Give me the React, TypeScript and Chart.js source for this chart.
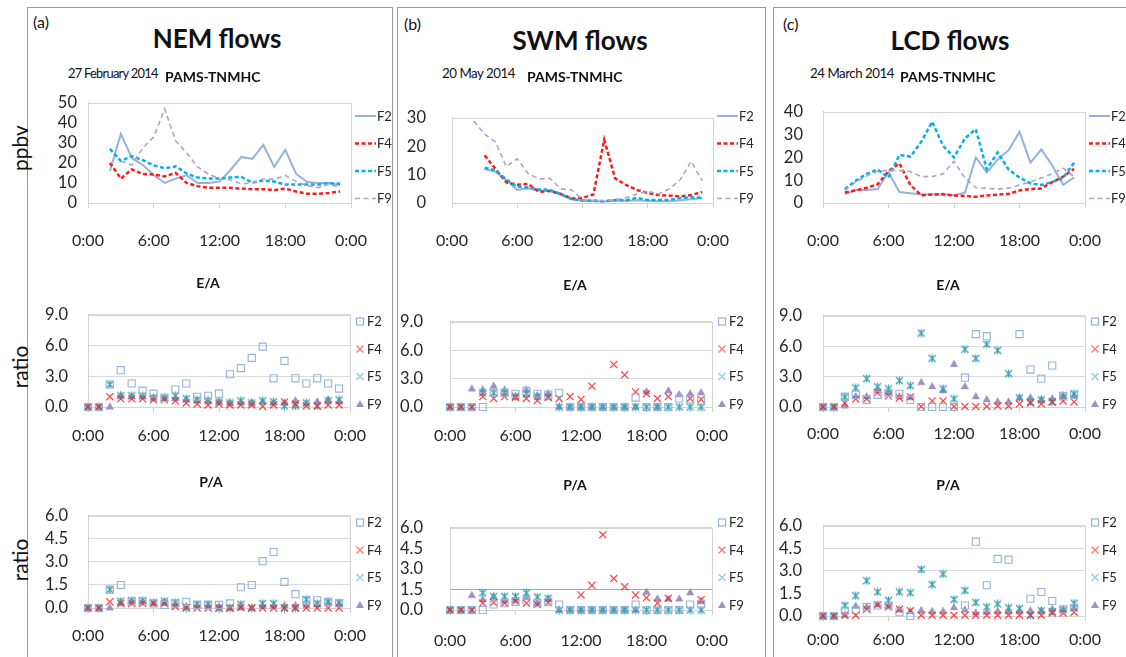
import React, { useEffect, useRef } from 'react';
import { Chart, registerables } from 'chart.js';

Chart.register(...registerables);

// ---------- data ----------
const HOURS = [0, 1, 2, 3, 4, 5, 6, 7, 8, 9, 10, 11, 12, 13, 14, 15, 16, 17, 18, 19, 20, 21, 22, 23];
const SERIES_NAMES = ['F2', 'F4', 'F5', 'F9'];
const X_TICK_VALUES = [0, 6, 12, 18, 24];
const X_TICK_LABELS = ['0:00', '6:00', '12:00', '18:00', '0:00'];

const NEM_Y_TICKS = [0, 10, 20, 30, 40, 50];
const SWM_Y_TICKS = [0, 10, 20, 30];
const LCD_Y_TICKS = [0, 10, 20, 30, 40];
const EA_Y_TICKS = [0, 3, 6, 9];
const PA_Y_TICKS = [0, 1.5, 3, 4.5, 6];

// (a) NEM flows, PAMS-TNMHC (ppbv)
const NEM_F2 = [null, null, 16, 34.5, 22.5, 19, 14, 10, 12.2, 13.8, 10, 10, 10.7, 16.5, 23, 22, 29, 18, 26.5, 14.5, 10.5, 10, 10, 9];
const NEM_F4 = [null, null, 20, 12.2, 16.8, 14.5, 14.2, 13.3, 15, 10, 8.4, 7.6, 7.6, 7.6, 7.2, 6.9, 6.9, 6.4, 7.2, 5.7, 4.6, 4.6, 5, 5.8];
const NEM_F5 = [null, null, 27, 21, 23.4, 21.4, 18.8, 17.3, 18.3, 14.8, 12.7, 12.2, 12.2, 12.7, 13, 10.2, 11.2, 10.7, 9.2, 9.2, 9.2, 9.2, 9.9, 9.6];
const NEM_F9 = [null, null, null, 21, 19, 27.5, 33, 47, 31, 25, 18, 14.5, 12, 11.5, 9.5, 10, 12, 11.8, 13.8, 10.7, 8.7, 7.6, 9.5, 7.6];

// (a) E/A ratio
const NEM_EA_F2 = [0, 0, 2.2, 3.6, 2.3, 1.6, 1.3, 0.9, 1.7, 2.3, 1.0, 1.1, 1.3, 3.2, 3.8, 4.8, 5.9, 2.8, 4.5, 2.8, 2.3, 2.8, 2.3, 1.8];
const NEM_EA_F4 = [0, 0, 1.0, 0.8, 0.8, 0.8, 0.7, 0.7, 0.6, 0.4, 0.3, 0.2, 0.3, 0.2, 0.2, 0.2, 0.05, 0.2, 0.5, 0.3, 0.1, 0.1, 0.2, 0.2];
const NEM_EA_F5 = [0, 0, 2.2, 1.1, 1.1, 1.1, 0.9, 0.9, 1.1, 0.8, 0.7, 0.6, 0.5, 0.4, 0.6, 0.4, 0.6, 0.5, 0.1, 0.1, 0.4, 0.1, 0.6, 0.7];
const NEM_EA_F9 = [0, 0, 0, 1.1, 1.0, 1.0, 0.9, 0.8, 0.8, 0.7, 0.6, 0.6, 0.5, 0.4, 0.4, 0.4, 0.5, 0.4, 0.4, 0.6, 0.3, 0.5, 0.7, 0.5];

// (a) P/A ratio
const NEM_PA_F2 = [0, 0, 1.2, 1.5, 0.4, 0.4, 0.3, 0.2, 0.3, 0.4, 0.2, 0.2, 0.2, 0.3, 1.35, 1.5, 3.05, 3.65, 1.7, 0.9, 0.5, 0.5, 0.4, 0.3];
const NEM_PA_F4 = [0, 0, 0.4, 0.3, 0.3, 0.3, 0.3, 0.3, 0.1, 0.05, 0, 0, 0, 0, 0.05, 0, 0, 0, 0, 0, 0, 0, 0, 0];
const NEM_PA_F5 = [0, 0, 1.2, 0.45, 0.5, 0.5, 0.35, 0.45, 0.35, 0, 0.25, 0.25, 0, 0, 0.25, 0, 0.3, 0.3, 0, 0, 0.55, 0.3, 0.4, 0.35];
const NEM_PA_F9 = [0, 0, 0, 0.3, 0.4, 0.4, 0.3, 0.3, 0.2, 0.1, 0.1, 0.1, 0.1, 0, 0, 0, 0.1, 0.1, 0.15, 0.15, 0.15, 0.2, 0.3, 0.25];

// (b) SWM flows, PAMS-TNMHC (ppbv)
const SWM_F2 = [null, null, null, 12, 11, 8, 4.6, 5.2, 4.4, 4.1, 3, 1.2, 0.8, 0.6, 0.5, 0.8, 0.8, 1.0, 0.8, 0.6, 0.6, 1.0, 1.3, 1.8];
const SWM_F4 = [null, null, null, 16.8, 12, 7.3, 6.4, 6.7, 3.9, 4.3, 3.2, 1.6, 1.8, 3, 22.3, 8.7, 6.4, 4.6, 3.5, 2.8, 2.6, 2.3, 2.8, 3.9];
const SWM_F5 = [null, null, null, 12.4, 11.5, 8.3, 5.7, 5.5, 4.8, 4.6, 3.2, 1.4, 0.9, 0.9, 0.6, 1.1, 0.9, 1.8, 1.1, 1.1, 1.1, 1.8, 2, 1.8];
const SWM_F9 = [null, null, 28.9, 24.3, 21.5, 12.8, 15.6, 10.4, 8.5, 8.7, 5, 4.6, 1.1, 0.9, 0.9, 1.1, 1.8, 3.2, 4.1, 3.2, 5, 8.3, 14.7, 7.8];

// (b) E/A ratio
const SWM_EA_F2 = [0, 0, 0, 0, 1.5, 1.5, 1.4, 1.7, 1.4, 1.3, 1.5, 0, 0, 0, 0, 0, 0, 1.0, 0, 0, 0, 0.9, 0.8, 0.6];
const SWM_EA_F4 = [0, 0, 0, 1.1, 0.9, 1.1, 1.0, 0.9, 0.7, 1.0, 0.9, 1.1, 0.8, 2.2, null, 4.5, 3.4, 1.6, 1.4, 0.9, 1.1, null, 0.9, 0.8];
const SWM_EA_F5 = [0, 0, 0, 1.5, 1.5, 1.5, 1.1, 1.4, 1.1, 1.1, 0, 0, 0, 0, 0, 0, 0, 0, 0, 0, 0, 0, 0, 0];
const SWM_EA_F9 = [0, 0, 1.9, 1.8, 2.2, 1.8, 1.1, 1.8, 1.2, 1.4, 0, 0, 0, 0, 0, 0, 0, 0, 1.6, 0, 1.7, 1.3, 1.4, 1.5];

// (b) P/A ratio
const SWM_PA_F2 = [0, 0, 0, 0, 0.4, 0.5, 0.6, 0.7, 0.5, 0.6, 0.4, 0, 0, 0, 0, 0, 0, 0.4, 0, 0, 0, 0, 0.4, 0.45];
const SWM_PA_F4 = [0, 0, 0, 0.5, 0.55, 0.5, 0.65, 0.5, 0.4, 0.55, null, null, 1.1, 1.8, 5.5, 2.3, 1.7, 1.1, 0.9, 0.5, 0.85, null, null, 0.75];
const SWM_PA_F5 = [0, 0, 0, 1.25, 1.0, 1.0, 1.0, 1.25, 0.95, 0.85, 0, 0, 0, 0, 0, 0, 0, 0, 0, 0, 0, 0, 0, 0];
const SWM_PA_F9 = [0, 0, 1.05, 0.75, 0.95, 0.65, 0.7, 0.9, 0.5, 0.8, 0, 0, 0, 0, 0, 0, 0, 0, 1.3, 0.8, 0.8, 0.8, 1.25, 0.6];

// (c) LCD flows, PAMS-TNMHC (ppbv)
const LCD_F2 = [null, null, 3.9, 5.7, 5.7, 6.1, 13.5, 4.8, 4.3, 3.7, 3.7, 3.7, 3.4, 4.5, 20, 13.4, 19, 23.2, 31.2, 17.7, 23.5, 16.5, 8, 11.2];
const LCD_F4 = [null, null, 4.6, 5.5, 6.7, 8.2, 14, 17.4, 7.9, 3.4, 3.7, 3.9, 3.3, 3.1, 2.7, 3.3, 3.7, 4, 5.5, 6.1, 6.4, 9.2, 11.6, 15];
const LCD_F5 = [null, null, 6.1, 9.8, 12.8, 14.7, 11.2, 21.1, 20.4, 26.9, 35.7, 25.1, 20, 28.4, 32.4, 14.9, 22.2, 14.7, 11.2, 8.6, 7.9, 9.2, 11, 17.7];
const LCD_F9 = [null, null, 5.5, 9.2, 11.9, 13.8, 14.4, 14.3, 13.8, 11.6, 11.6, 12.8, 18.3, 11, 6.7, 6.5, 6.1, 6.5, 7.9, 9.2, 11, 12.8, 15.3, 11.6];

// (c) E/A ratio
const LCD_EA_F2 = [0, 0, 1.0, 1.2, 0.7, 1.2, 1.4, 1.3, 0.7, 0, 0, 0, 0, 2.9, 7.2, 7.0, null, null, 7.2, 3.7, 2.8, 4.1, 1.1, 1.2];
const LCD_EA_F4 = [0, 0, 0.4, 0.8, 0.8, 1.4, 1.1, 0.9, 1.0, 0.05, 0.6, 0.6, 0.05, 0.05, 0.05, 0.05, 0.1, 0.1, 0.3, 0.4, 0.3, 0.5, 0.6, 0.5];
const LCD_EA_F5 = [0, 0, 1.0, 1.9, 2.8, 2.0, 1.8, 2.6, 2.1, 7.3, 4.8, 1.8, 0.8, 5.7, 4.8, 6.2, 5.6, 3.3, 0.9, 0.5, 0.7, 0.5, 1.0, 1.3];
const LCD_EA_F9 = [0, 0, 0.1, 1.0, 1.0, 1.6, 1.4, 1.0, 0.9, 2.4, 2.0, 1.6, 4.2, 2.0, 1.0, 0.7, 0.5, 0.5, 0.9, 0.9, 0.7, 0.8, 1.1, 1.1];

// (c) P/A ratio
const LCD_PA_F2 = [0, 0, 0.35, 0.4, 0.6, 0.7, 0.7, 0.25, 0, null, null, null, null, 0.7, 4.95, 2.05, 3.8, 3.75, null, 1.15, 1.6, 1.0, 0.45, 0.55];
const LCD_PA_F4 = [0, 0, 0.05, 0.05, 0.45, 0.75, 0.6, 0.45, 0.35, 0.05, 0.05, 0.05, 0.05, 0.05, 0.05, 0.05, 0.05, 0.05, 0.05, 0.05, 0.05, 0.2, 0.2, 0.25];
const LCD_PA_F5 = [0, 0, 0.7, 1.35, 2.35, 1.6, 1.05, 1.6, 1.55, 3.1, 2.1, 2.8, 1.1, 1.7, 0.9, 0.6, 0.8, 0.55, 0.5, 0.05, 0.35, 0.3, 0.4, 0.85];
const LCD_PA_F9 = [0, 0, 0.05, 0.65, 0.6, 0.75, 0.65, 0.4, 0.3, 0.35, 0.3, 0.3, 0.55, 0.4, 0.2, 0.25, 0.3, 0.3, 0.3, 0.35, 0.35, 0.45, 0.4, 0.5];

// ---------- styles ----------
const FONT = 'Lato, Carlito, "Open Sans", sans-serif';
const TEXT = '#262626';
const C_F2 = '#95b3d7';
const C_F4 = '#ff1a1a';
const C_F5_LINE = '#00b0f0';
const C_F5_MARK = '#3aa2b6';
const C_F9_LINE = '#b3a2c7';
const C_F9_MARK = '#a090c4';

type Vals = (number | null)[];

interface Spec {
  kind: 'line' | 'scatter';
  series: Vals[];
  yTicks: number[];
  decimals: number;
  l: number; r: number; t: number; b: number;
  yLabRight: number;
  xLabCenter: number;
  legendY0: number;
  gridColor?: (v: number) => string;
}

let f5Img: HTMLCanvasElement | null = null;
function getF5Marker(): HTMLCanvasElement {
  if (f5Img) return f5Img;
  const s = 9;
  const c = document.createElement('canvas');
  c.width = s; c.height = s;
  const g = c.getContext('2d')!;
  g.strokeStyle = C_F5_MARK;
  g.lineWidth = 1.3;
  g.beginPath();
  g.moveTo(1, 1); g.lineTo(s - 1, s - 1);
  g.moveTo(s - 1, 1); g.lineTo(1, s - 1);
  g.moveTo(s / 2, 0.5); g.lineTo(s / 2, s - 0.5);
  g.stroke();
  f5Img = c;
  return c;
}

function drawLegendMarker(ctx: CanvasRenderingContext2D, idx: number, x: number, y: number) {
  ctx.save();
  ctx.setLineDash([]);
  if (idx === 0) {
    ctx.strokeStyle = C_F2; ctx.lineWidth = 1.2;
    ctx.strokeRect(x - 3.5, y - 3.5, 7, 7);
  } else if (idx === 1) {
    ctx.strokeStyle = 'rgba(255,60,60,0.7)'; ctx.lineWidth = 1.3;
    ctx.beginPath();
    ctx.moveTo(x - 3.5, y - 3.5); ctx.lineTo(x + 3.5, y + 3.5);
    ctx.moveTo(x + 3.5, y - 3.5); ctx.lineTo(x - 3.5, y + 3.5);
    ctx.stroke();
  } else if (idx === 2) {
    ctx.strokeStyle = '#8fd0df'; ctx.lineWidth = 1.3;
    ctx.beginPath();
    ctx.moveTo(x - 3.5, y - 3.5); ctx.lineTo(x + 3.5, y + 3.5);
    ctx.moveTo(x + 3.5, y - 3.5); ctx.lineTo(x - 3.5, y + 3.5);
    ctx.stroke();
  } else {
    ctx.fillStyle = C_F9_MARK;
    ctx.beginPath();
    ctx.moveTo(x, y - 4); ctx.lineTo(x + 4, y + 3); ctx.lineTo(x - 4, y + 3);
    ctx.closePath(); ctx.fill();
  }
  ctx.restore();
}

const LINE_STYLES = [
  { color: C_F2, width: 2, dash: [] as number[] },
  { color: C_F4, width: 2.5, dash: [4, 2.5] },
  { color: C_F5_LINE, width: 2.5, dash: [4, 2.5] },
  { color: C_F9_LINE, width: 1.6, dash: [5, 3.5] },
];

const sideLegend = {
  id: 'sideLegend',
  afterDraw(chart: any, _a: any, opts: any) {
    const { ctx, chartArea } = chart;
    const x0 = chartArea.right;
    SERIES_NAMES.forEach((name, i) => {
      const y = opts.y0 + 27.5 * i;
      let tx: number;
      ctx.save();
      if (opts.kind === 'line') {
        const st = LINE_STYLES[i];
        ctx.strokeStyle = st.color; ctx.lineWidth = st.width; ctx.setLineDash(st.dash);
        ctx.beginPath(); ctx.moveTo(x0 + 4, y); ctx.lineTo(x0 + 25, y); ctx.stroke();
        tx = x0 + 26;
      } else {
        drawLegendMarker(ctx, i, x0 + 10, y);
        tx = x0 + 17;
      }
      ctx.setLineDash([]);
      ctx.fillStyle = TEXT;
      ctx.font = `13px ${FONT}`;
      ctx.textBaseline = 'middle';
      ctx.textAlign = 'left';
      ctx.fillText(name, tx, y + 0.5);
      ctx.restore();
    });
  },
};

const frame = {
  id: 'frame',
  beforeDatasetsDraw(chart: any) {
    const { ctx, chartArea: { left, top, right, bottom } } = chart;
    ctx.save();
    ctx.strokeStyle = '#d4d4d4';
    ctx.lineWidth = 1;
    ctx.strokeRect(Math.round(left) + 0.5, Math.round(top) + 0.5, Math.round(right - left), Math.round(bottom - top));
    ctx.restore();
  },
};

const PAD_TOP = 12;
const RIGHT_W = 48;

function ChartBox({ spec }: { spec: Spec }) {
  const ref = useRef<HTMLCanvasElement>(null);
  const yPad = spec.l - spec.yLabRight;
  const yW = yPad + 34;
  const xH = spec.xLabCenter - spec.b + 16;
  const width = spec.r - spec.l + yW + RIGHT_W;
  const height = spec.b - spec.t + PAD_TOP + xH;
  const left = spec.l - yW;
  const top = spec.t - PAD_TOP;

  useEffect(() => {
    const yMax = spec.yTicks[spec.yTicks.length - 1];
    const datasets = spec.series.map((vals, i) => {
      const data = HOURS.map((h, k) => ({ x: h, y: vals[k] }));
      if (spec.kind === 'line') {
        const st = LINE_STYLES[i];
        return {
          label: SERIES_NAMES[i], data,
          borderColor: st.color, borderWidth: st.width, borderDash: st.dash,
          pointRadius: 0, tension: 0, fill: false, spanGaps: false,
          order: i === 0 ? 4 : 4 - i,
        };
      }
      const base: any = { label: SERIES_NAMES[i], data, clip: false, pointBorderWidth: 1.3 };
      if (i === 0) return { ...base, pointStyle: 'rect', pointRadius: 5, pointBorderColor: C_F2, pointBackgroundColor: 'rgba(0,0,0,0)', pointBorderWidth: 1.1 };
      if (i === 1) return { ...base, pointStyle: 'crossRot', pointRadius: 5, pointBorderColor: 'rgba(255,30,30,0.8)' };
      if (i === 2) return { ...base, pointStyle: getF5Marker(), pointRadius: 5 };
      return { ...base, pointStyle: 'triangle', pointRadius: 4.3, pointBackgroundColor: C_F9_MARK, pointBorderColor: C_F9_MARK, pointBorderWidth: 0.5 };
    });

    const chart = new Chart(ref.current!, {
      type: spec.kind === 'line' ? 'line' : 'scatter',
      data: { datasets } as any,
      plugins: [frame, sideLegend],
      options: {
        responsive: false,
        animation: false,
        devicePixelRatio: 1,
        events: [],
        layout: { padding: { top: PAD_TOP, right: RIGHT_W, left: 0, bottom: 0 } },
        plugins: {
          legend: { display: false },
          tooltip: { enabled: false },
          title: { display: false },
          sideLegend: { kind: spec.kind, y0: spec.legendY0 - top },
        } as any,
        scales: {
          x: {
            type: 'linear', min: 0, max: 24,
            afterBuildTicks: (s: any) => { s.ticks = X_TICK_VALUES.map((v) => ({ value: v })); },
            afterFit: (s: any) => { s.height = xH; },
            ticks: {
              autoSkip: false, maxRotation: 0,
              padding: spec.xLabCenter - spec.b - 14,
              color: TEXT,
              font: { family: FONT, size: 16 },
              callback: (v: any) => X_TICK_LABELS[X_TICK_VALUES.indexOf(Number(v))],
            },
            grid: { drawOnChartArea: false, drawTicks: true, tickLength: 5, color: '#cfcfcf' },
            border: { display: true, color: '#b8b8b8' },
          },
          y: {
            type: 'linear', min: 0, max: yMax,
            afterBuildTicks: (s: any) => { s.ticks = spec.yTicks.map((v) => ({ value: v })); },
            afterFit: (s: any) => { s.width = yW; },
            ticks: {
              autoSkip: false,
              padding: yPad,
              color: TEXT,
              font: { family: FONT, size: 16.5 },
              callback: (v: any) => Number(v).toFixed(spec.decimals),
            },
            grid: {
              display: spec.kind === 'scatter',
              drawTicks: false,
              color: (c: any) => (spec.gridColor ? spec.gridColor(c.tick.value) : '#dadada'),
            },
            border: { display: true, color: '#c4c4c4' },
          },
        },
      } as any,
    });
    return () => chart.destroy();
  }, []);

  return (
    <canvas
      ref={ref}
      width={width}
      height={height}
      style={{ position: 'absolute', left, top, width, height }}
    />
  );
}

const SPECS: Spec[] = [
  // panel a
  { kind: 'line', series: [NEM_F2, NEM_F4, NEM_F5, NEM_F9], yTicks: NEM_Y_TICKS, decimals: 0, l: 88, r: 351, t: 94, b: 203, yLabRight: 77, xLabCenter: 240, legendY0: 116 },
  { kind: 'scatter', series: [NEM_EA_F2, NEM_EA_F4, NEM_EA_F5, NEM_EA_F9], yTicks: EA_Y_TICKS, decimals: 1, l: 88, r: 350, t: 297, b: 407, yLabRight: 68, xLabCenter: 435, legendY0: 321.5 },
  { kind: 'scatter', series: [NEM_PA_F2, NEM_PA_F4, NEM_PA_F5, NEM_PA_F9], yTicks: PA_Y_TICKS, decimals: 1, l: 88, r: 350, t: 498, b: 608, yLabRight: 68, xLabCenter: 635, legendY0: 522.5 },
  // panel b
  { kind: 'line', series: [SWM_F2, SWM_F4, SWM_F5, SWM_F9], yTicks: SWM_Y_TICKS, decimals: 0, l: 452, r: 713, t: 94, b: 203, yLabRight: 426, xLabCenter: 240, legendY0: 116 },
  { kind: 'scatter', series: [SWM_EA_F2, SWM_EA_F4, SWM_EA_F5, SWM_EA_F9], yTicks: EA_Y_TICKS, decimals: 1, l: 450, r: 712, t: 297, b: 407, yLabRight: 423, xLabCenter: 435, legendY0: 321.5 },
  {
    kind: 'scatter', series: [SWM_PA_F2, SWM_PA_F4, SWM_PA_F5, SWM_PA_F9], yTicks: PA_Y_TICKS, decimals: 1, l: 450, r: 712, t: 503, b: 610, yLabRight: 423, xLabCenter: 640, legendY0: 522.5,
    gridColor: (v) => (v === 1.5 ? '#a8a8a8' : v === 6 ? '#d4d4d4' : 'rgba(0,0,0,0)'),
  },
  // panel c
  { kind: 'line', series: [LCD_F2, LCD_F4, LCD_F5, LCD_F9], yTicks: LCD_Y_TICKS, decimals: 0, l: 823, r: 1085, t: 94, b: 203, yLabRight: 803, xLabCenter: 240, legendY0: 116 },
  { kind: 'scatter', series: [LCD_EA_F2, LCD_EA_F4, LCD_EA_F5, LCD_EA_F9], yTicks: EA_Y_TICKS, decimals: 1, l: 823, r: 1085, t: 297, b: 407, yLabRight: 802, xLabCenter: 433, legendY0: 321.5 },
  {
    kind: 'scatter', series: [LCD_PA_F2, LCD_PA_F4, LCD_PA_F5, LCD_PA_F9], yTicks: PA_Y_TICKS, decimals: 1, l: 823, r: 1085, t: 507, b: 616, yLabRight: 802, xLabCenter: 639, legendY0: 522.5,
    gridColor: (v) => (v === 1.5 ? 'rgba(0,0,0,0)' : '#dadada'),
  },
];

interface TextItem { text: string; x: number; y: number; size: number; bold?: boolean; center?: boolean; spacing?: number; rotate?: boolean; squeeze?: number }

const TEXTS: TextItem[] = [
  { text: '(a)', x: 33, y: 22, size: 16 },
  { text: '(b)', x: 404, y: 24, size: 16 },
  { text: '(c)', x: 783, y: 24, size: 16 },
  { text: 'NEM flows', x: 217, y: 38, size: 26, bold: true, center: true },
  { text: 'SWM flows', x: 580, y: 40, size: 26, bold: true, center: true },
  { text: 'LCD flows', x: 950, y: 40, size: 26, bold: true, center: true },
  { text: '27 February 2014', x: 68, y: 73, size: 14, spacing: -0.8, squeeze: 0.92 },
  { text: '20 May 2014', x: 442, y: 73, size: 14, spacing: -0.5, squeeze: 0.95 },
  { text: '24 March 2014', x: 810, y: 73, size: 14, spacing: -0.5, squeeze: 0.95 },
  { text: 'PAMS-TNMHC', x: 165, y: 77, size: 14, bold: true },
  { text: 'PAMS-TNMHC', x: 527, y: 77, size: 14, bold: true },
  { text: 'PAMS-TNMHC', x: 900, y: 77, size: 14, bold: true },
  { text: 'E/A', x: 208, y: 283, size: 14, bold: true, center: true },
  { text: 'E/A', x: 575, y: 285, size: 14, bold: true, center: true },
  { text: 'E/A', x: 948, y: 285, size: 14, bold: true, center: true },
  { text: 'P/A', x: 211, y: 482, size: 14, bold: true, center: true },
  { text: 'P/A', x: 575, y: 485, size: 14, bold: true, center: true },
  { text: 'P/A', x: 948, y: 485, size: 14, bold: true, center: true },
  { text: 'ppbv', x: 19, y: 148, size: 21, center: true, rotate: true },
  { text: 'ratio', x: 19, y: 367, size: 21, center: true, rotate: true },
  { text: 'ratio', x: 19, y: 560, size: 21, center: true, rotate: true },
];

const BORDERS = [
  { left: 27, top: 7, width: 366 },
  { left: 397, top: 7, width: 369 },
  { left: 773, top: 7, width: 420 },
];

export default function App() {
  return (
    <div style={{ position: 'absolute', left: 0, top: 0, width: 1126, height: 657, overflow: 'hidden', background: '#fff', fontFamily: FONT }}>
      {BORDERS.map((b, i) => (
        <div key={'b' + i} style={{ position: 'absolute', left: b.left, top: b.top, width: b.width, height: 720, border: '1.5px solid #9a9a9a', boxSizing: 'border-box' }} />
      ))}
      {SPECS.map((s, i) => <ChartBox key={i} spec={s} />)}
      {TEXTS.map((t, i) => {
        let transform: string;
        let origin: string;
        if (t.rotate) {
          transform = 'translate(-50%,-50%) rotate(-90deg)';
          origin = '50% 50%';
        } else if (t.center) {
          transform = 'translate(-50%,-50%)';
          origin = '50% 50%';
        } else {
          transform = 'translateY(-50%)' + (t.squeeze ? ` scaleX(${t.squeeze})` : '');
          origin = '0 50%';
        }
        return (
          <div
            key={'t' + i}
            style={{
              position: 'absolute', left: t.x, top: t.y, fontSize: t.size, fontWeight: t.bold ? 700 : 400,
              color: '#111', whiteSpace: 'nowrap', lineHeight: 1, letterSpacing: t.spacing ?? 0,
              transform, transformOrigin: origin,
            }}
          >
            {t.text}
          </div>
        );
      })}
    </div>
  );
}
